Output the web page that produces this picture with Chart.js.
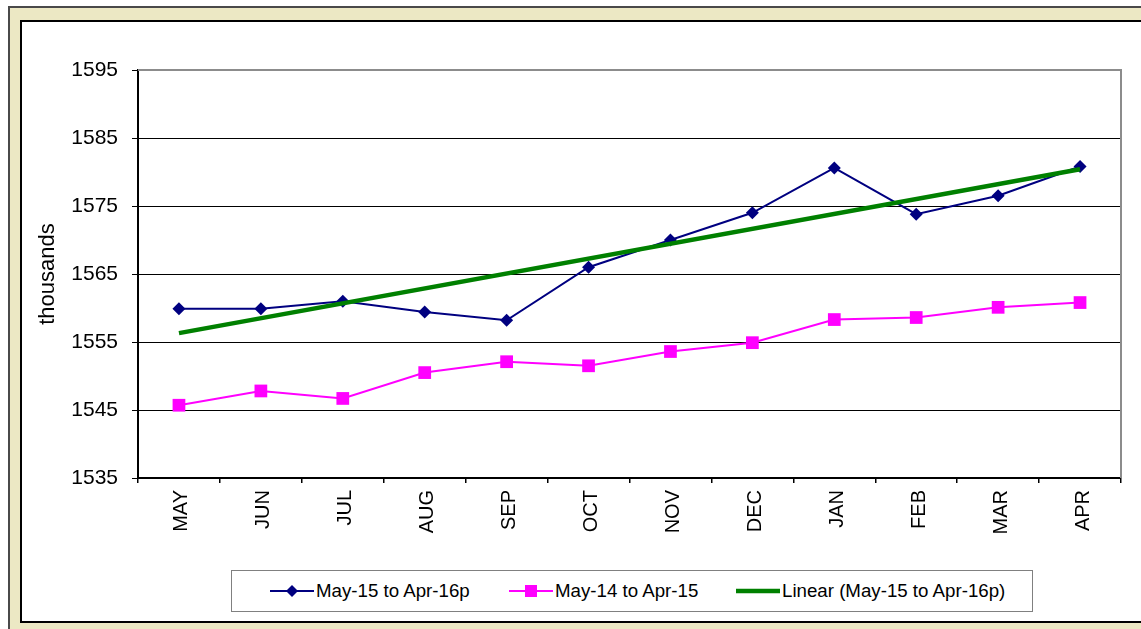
<!DOCTYPE html>
<html>
<head>
<meta charset="utf-8">
<script src="https://cdn.jsdelivr.net/npm/chart.js@4.4.1/dist/chart.umd.min.js"></script>
<style>
  html, body { margin: 0; padding: 0; width: 1141px; height: 629px; overflow: hidden; background: #fff; }
  body { position: relative; font-family: "Liberation Sans", Arial, sans-serif; }
  #outer { position: absolute; left: 8px; top: 6px; width: 1300px; height: 800px; background: #ECE8C4;
           border-left: 2px solid #4a4a4a; border-top: 2px solid #4a4a4a; }
  #inner { position: absolute; left: 20px; top: 20px; width: 1300px; height: 599px; background: #fff;
           border: 2px solid #000; }
  #chart { position: absolute; left: 0; top: 0; }
  #legend { position: absolute; left: 231px; top: 570px; width: 800px; height: 40px; background: #fff;
            border: 1px solid #808080; }
  .item { position: absolute; top: 0; height: 40px; display: flex; align-items: center;
          font-size: 18.7px; color: #000; white-space: nowrap; }
  .item svg { margin-right: 2px; }
</style>
</head>
<body>
<div id="outer"></div>
<div id="inner"></div>
<canvas id="chart" width="1141" height="629"></canvas>
<div id="legend"></div>
<script>
// Month categories along the x axis
const months = ['MAY', 'JUN', 'JUL', 'AUG', 'SEP', 'OCT', 'NOV', 'DEC', 'JAN', 'FEB', 'MAR', 'APR'];

// Values (thousands)
const may15ToApr16p = [1559.9, 1559.9, 1561.0, 1559.4, 1558.2, 1566.0, 1570.0, 1574.0, 1580.6, 1573.8, 1576.5, 1580.8];
const may14ToApr15 = [1545.7, 1547.8, 1546.7, 1550.5, 1552.1, 1551.5, 1553.6, 1554.9, 1558.3, 1558.6, 1560.1, 1560.8];

// Trend line end points (Excel linear trendline of the first series)
const trendStart = 1556.3;
const trendEnd = 1580.4;

const yMin = 1535;
const yMax = 1595;
const yStep = 10;

const seriesNames = ['May-15 to Apr-16p', 'May-14 to Apr-15', 'Linear (May-15 to Apr-16p)'];
const FONT = '"Liberation Sans", Arial, sans-serif';

// Gray top/right border of the plot area
const plotBorder = {
  id: 'plotBorder',
  beforeDatasetsDraw(chart) {
    const a = chart.chartArea;
    const ctx = chart.ctx;
    ctx.save();
    ctx.strokeStyle = '#8c8c8c';
    ctx.lineWidth = 2;
    ctx.beginPath();
    ctx.moveTo(a.left, a.top);
    ctx.lineTo(a.right, a.top);
    ctx.lineTo(a.right, a.bottom);
    ctx.stroke();
    ctx.restore();
  }
};

const ctx = document.getElementById('chart').getContext('2d');
new Chart(ctx, {
  type: 'line',
  data: {
    labels: months,
    datasets: [
      {
        label: seriesNames[2],
        data: [{ x: months[0], y: trendStart }, { x: months[months.length - 1], y: trendEnd }],
        borderColor: '#008000',
        borderWidth: 4.5,
        pointRadius: 0,
        order: 0
      },
      {
        label: seriesNames[0],
        data: may15ToApr16p,
        borderColor: '#000080',
        backgroundColor: '#000080',
        borderWidth: 2,
        pointStyle: 'rectRot',
        pointRadius: 6.5,
        pointBorderWidth: 0,
        order: 1
      },
      {
        label: seriesNames[1],
        data: may14ToApr15,
        borderColor: '#ff00ff',
        backgroundColor: '#ff00ff',
        borderWidth: 2,
        pointStyle: 'rect',
        pointRadius: 9,
        pointBorderWidth: 0,
        order: 2
      }
    ]
  },
  options: {
    responsive: false,
    animation: false,
    layout: { padding: { left: 30, right: 20, top: 70, bottom: 71 } },
    plugins: {
      legend: { display: false },
      tooltip: { enabled: false }
    },
    scales: {
      x: {
        offset: true,
        grid: { offset: true, drawOnChartArea: false, tickLength: 5, color: '#000', lineWidth: 1.5 },
        border: { color: '#000', width: 2 },
        ticks: {
          minRotation: 90,
          maxRotation: 90,
          padding: 7,
          labelOffset: 3,
          color: '#000',
          font: { family: FONT, size: 20 }
        },
        afterFit(scale) { scale.height = 80; }
      },
      y: {
        min: yMin,
        max: yMax,
        grid: {
          color: (c) => (c.tick && c.tick.value === yMax ? '#8c8c8c' : '#000'),
          tickColor: '#000',
          tickLength: 6,
          lineWidth: 1
        },
        border: { color: '#000', width: 2 },
        ticks: {
          stepSize: yStep,
          padding: 14,
          color: '#000',
          font: { family: FONT, size: 21 },
          callback: (v) => String(v)
        },
        title: {
          display: true,
          text: 'thousands',
          color: '#000',
          padding: { top: 5, bottom: 0 },
          font: { family: FONT, size: 22 }
        },
        afterFit(scale) { scale.width = 108; }
      }
    }
  },
  plugins: [plotBorder]
});

// HTML legend with line + marker samples
const legendItems = [
  { name: seriesNames[0], left: 38, color: '#000080', marker: 'diamond', width: 2 },
  { name: seriesNames[1], left: 277, color: '#ff00ff', marker: 'square', width: 2 },
  { name: seriesNames[2], left: 504, color: '#008000', marker: null, width: 4.5 }
];
const legend = document.getElementById('legend');
legendItems.forEach(function(it) {
  const div = document.createElement('div');
  div.className = 'item';
  div.style.left = it.left + 'px';
  let mark = '';
  if (it.marker === 'diamond') {
    mark = '<polygon points="16,7 22,1 28,7 22,13" fill="' + it.color + '"/>';
  } else if (it.marker === 'square') {
    mark = '<rect x="16" y="1" width="12" height="12" fill="' + it.color + '"/>';
  }
  div.innerHTML = '<svg width="44" height="14" viewBox="0 0 44 14">' +
    '<line x1="0" y1="7" x2="44" y2="7" stroke="' + it.color + '" stroke-width="' + it.width + '"/>' +
    mark + '</svg><span>' + it.name + '</span>';
  legend.appendChild(div);
});
</script>
</body>
</html>
